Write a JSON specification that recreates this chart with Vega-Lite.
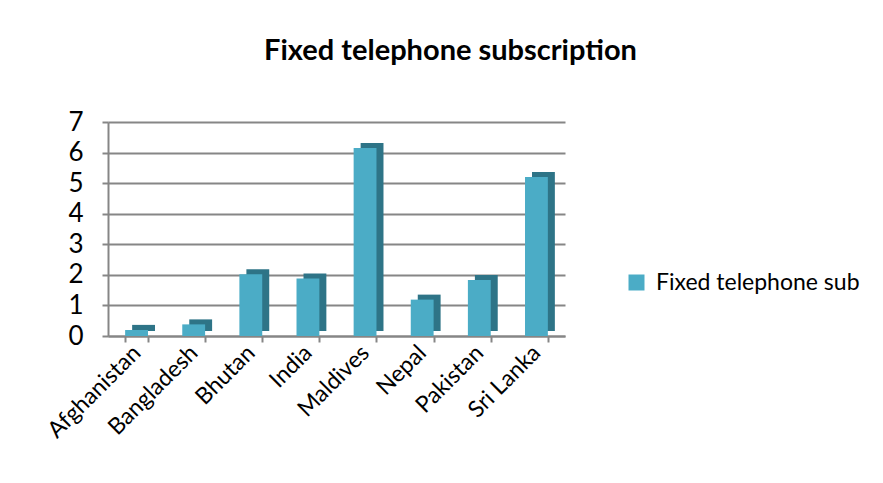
{
  "$schema": "https://vega.github.io/schema/vega-lite/v6.json",
  "width": 457,
  "height": 214,
  "autosize": "none",
  "padding": {"left": 108, "top": 122, "right": 318, "bottom": 147},
  "background": "white",
  "title": {"text": "Fixed telephone subscription", "font": "Lato", "fontSize": 29, "fontWeight": "bold", "color": "#000000", "anchor": "middle", "frame": "group", "dx": 114, "offset": 43},
  "data": {"values": [
    {"country": "Afghanistan", "value": 0.2, "series": "Fixed telephone sub"},
    {"country": "Bangladesh", "value": 0.38, "series": "Fixed telephone sub"},
    {"country": "Bhutan", "value": 2.02, "series": "Fixed telephone sub"},
    {"country": "India", "value": 1.88, "series": "Fixed telephone sub"},
    {"country": "Maldives", "value": 6.15, "series": "Fixed telephone sub"},
    {"country": "Nepal", "value": 1.19, "series": "Fixed telephone sub"},
    {"country": "Pakistan", "value": 1.83, "series": "Fixed telephone sub"},
    {"country": "Sri Lanka", "value": 5.2, "series": "Fixed telephone sub"}
  ]},
  "encoding": {
    "x": {"field": "country", "type": "nominal", "sort": null, "title": null,
      "scale": {"paddingInner": 0.6, "paddingOuter": 0.3},
      "axis": {"labelAngle": -45, "labelAlign": "right", "labelBaseline": "middle", "labelFont": "Lato", "labelFontSize": 23, "labelColor": "#000000", "labelPadding": 7, "labelLimit": 0, "domainColor": "#868686", "domainWidth": 2, "tickColor": "#868686", "tickWidth": 2, "tickSize": 6, "tickBand": "extent"}},
    "y": {"field": "value", "type": "quantitative", "title": null,
      "scale": {"domain": [0, 7], "nice": false},
      "axis": {"values": [0,1,2,3,4,5,6,7], "labelFont": "Lato", "labelFontSize": 26, "labelColor": "#000000", "labelPadding": 19, "domainColor": "#868686", "domainWidth": 2, "tickColor": "#868686", "tickWidth": 2, "tickSize": 6, "gridColor": "#868686", "gridWidth": 2}}
  },
  "layer": [
    {"mark": {"type": "bar", "color": "#2E7487", "xOffset": 7, "x2Offset": 7, "yOffset": -5, "y2Offset": -5}},
    {"mark": {"type": "bar", "color": "#4BACC6"},
     "encoding": {"fill": {"field": "series", "type": "nominal", "title": null,
       "scale": {"range": ["#4BACC6"]},
       "legend": {"orient": "none", "legendX": 517, "legendY": 149, "symbolType": "square", "symbolSize": 256, "symbolStrokeWidth": 0, "labelFont": "Lato", "labelFontSize": 23, "labelLimit": 0, "labelColor": "#000000", "labelOffset": 8}}}}
  ],
  "config": {"view": {"stroke": null}}
}
